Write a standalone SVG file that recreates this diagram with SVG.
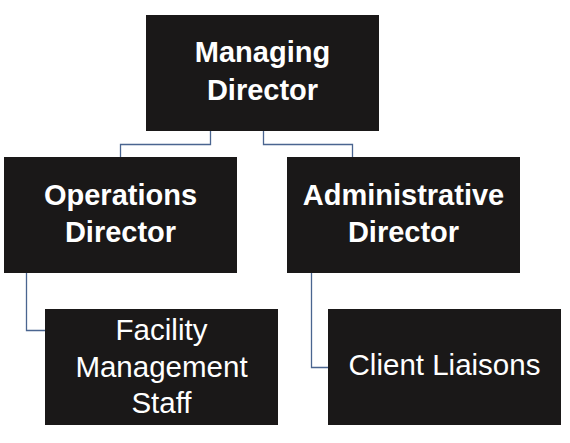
<svg xmlns="http://www.w3.org/2000/svg" width="570" height="443" viewBox="0 0 570 443">
<style>
.box{fill:#1a1818}
.t{fill:#ffffff;font-family:"Liberation Sans",Arial,sans-serif;text-anchor:middle}
.b{font-weight:bold;font-size:29px}
.r{font-size:29.5px}
.c{fill:none;stroke:#4a6590;stroke-width:1.3}
</style>
<rect width="570" height="443" fill="#ffffff"/>
<g id="connectors">
<path class="c" d="M210.5,131 V144.5 H120.5 V157"/>
<path class="c" d="M263.5,131 V144.5 H352.5 V157"/>
<path class="c" d="M26.5,273 V330.5 H45"/>
<path class="c" d="M311.5,273 V367.5 H328"/>
</g>
<g id="managing-director">
<rect class="box" x="146" y="15" width="233" height="116"/>
<text class="t b" x="262.5" y="62">Managing</text>
<text class="t b" x="262.5" y="100">Director</text>
</g>
<g id="operations-director">
<rect class="box" x="4" y="157" width="233" height="116"/>
<text class="t b" x="120.5" y="205">Operations</text>
<text class="t b" x="120.5" y="242">Director</text>
</g>
<g id="administrative-director">
<rect class="box" x="287" y="157" width="233" height="116"/>
<text class="t b" x="403.5" y="205">Administrative</text>
<text class="t b" x="403.5" y="242">Director</text>
</g>
<g id="facility-management-staff">
<rect class="box" x="45" y="309" width="233" height="116"/>
<text class="t r" x="161.5" y="340">Facility</text>
<text class="t r" x="161.5" y="377">Management</text>
<text class="t r" x="161.5" y="413">Staff</text>
</g>
<g id="client-liaisons">
<rect class="box" x="328" y="309" width="233" height="116"/>
<text class="t r" x="444.5" y="375">Client Liaisons</text>
</g>
</svg>
